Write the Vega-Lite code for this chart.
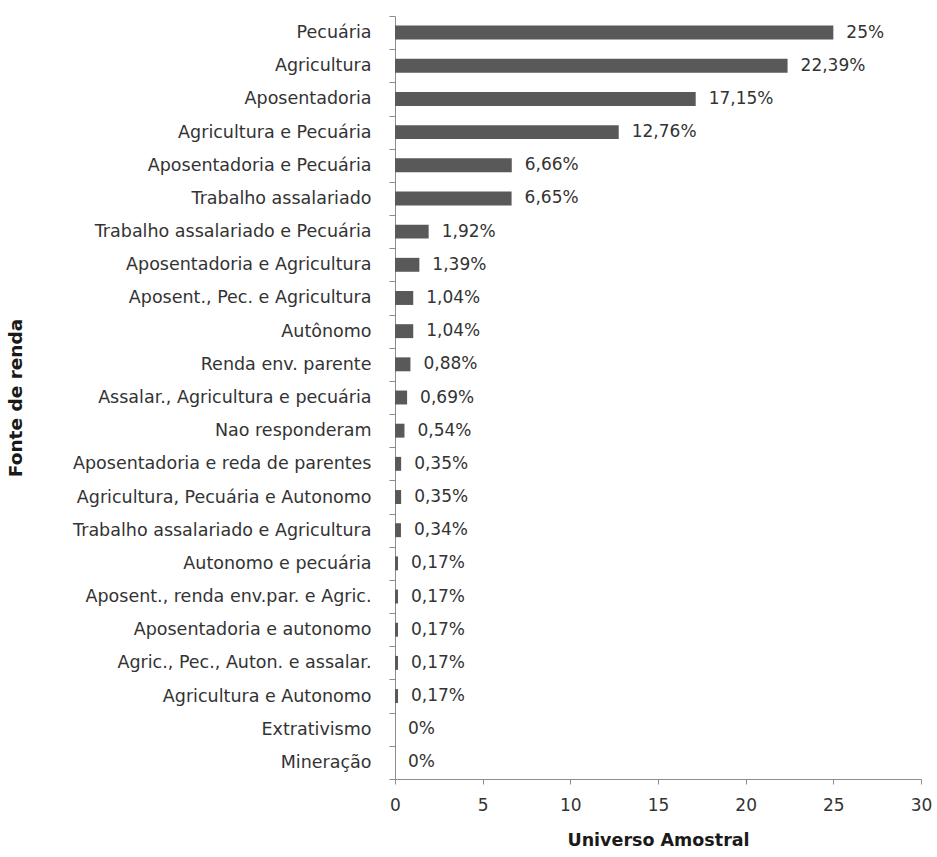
{
  "$schema": "https://vega.github.io/schema/vega-lite/v6.json",
  "autosize": "none",
  "width": 526,
  "height": 763,
  "padding": {"left": 395, "top": 16, "right": 16, "bottom": 78},
  "background": "white",
  "config": {"view": {"stroke": null}, "font": "DejaVu Sans"},
  "data": {"values": [
    {"fonte": "Pecuária", "valor": 25, "rotulo": "25%"},
    {"fonte": "Agricultura", "valor": 22.39, "rotulo": "22,39%"},
    {"fonte": "Aposentadoria", "valor": 17.15, "rotulo": "17,15%"},
    {"fonte": "Agricultura e Pecuária", "valor": 12.76, "rotulo": "12,76%"},
    {"fonte": "Aposentadoria e Pecuária", "valor": 6.66, "rotulo": "6,66%"},
    {"fonte": "Trabalho assalariado", "valor": 6.65, "rotulo": "6,65%"},
    {"fonte": "Trabalho assalariado e Pecuária", "valor": 1.92, "rotulo": "1,92%"},
    {"fonte": "Aposentadoria e Agricultura", "valor": 1.39, "rotulo": "1,39%"},
    {"fonte": "Aposent., Pec. e Agricultura", "valor": 1.04, "rotulo": "1,04%"},
    {"fonte": "Autônomo", "valor": 1.04, "rotulo": "1,04%"},
    {"fonte": "Renda env. parente", "valor": 0.88, "rotulo": "0,88%"},
    {"fonte": "Assalar., Agricultura e pecuária", "valor": 0.69, "rotulo": "0,69%"},
    {"fonte": "Nao responderam", "valor": 0.54, "rotulo": "0,54%"},
    {"fonte": "Aposentadoria e reda de parentes", "valor": 0.35, "rotulo": "0,35%"},
    {"fonte": "Agricultura, Pecuária e Autonomo", "valor": 0.35, "rotulo": "0,35%"},
    {"fonte": "Trabalho assalariado e Agricultura", "valor": 0.34, "rotulo": "0,34%"},
    {"fonte": "Autonomo e pecuária", "valor": 0.17, "rotulo": "0,17%"},
    {"fonte": "Aposent., renda env.par. e Agric.", "valor": 0.17, "rotulo": "0,17%"},
    {"fonte": "Aposentadoria e autonomo", "valor": 0.17, "rotulo": "0,17%"},
    {"fonte": "Agric., Pec., Auton. e assalar.", "valor": 0.17, "rotulo": "0,17%"},
    {"fonte": "Agricultura e Autonomo", "valor": 0.17, "rotulo": "0,17%"},
    {"fonte": "Extrativismo", "valor": 0, "rotulo": "0%"},
    {"fonte": "Mineração", "valor": 0, "rotulo": "0%"}
  ]},
  "encoding": {
    "y": {
      "field": "fonte", "type": "nominal", "sort": null,
      "scale": {"paddingInner": 0, "paddingOuter": 0},
      "axis": {
        "title": "Fonte de renda", "titleFontSize": 18.5, "titleFontWeight": "bold", "titleColor": "#1a1a1a",
        "titleX": -370,
        "labelFontSize": 17.5, "labelColor": "#333333", "labelLimit": 400, "labelPadding": 18,
        "domainColor": "#8c8c8c", "tickColor": "#8c8c8c", "tickSize": 6, "tickWidth": 1, "ticks": true, "tickBand": "extent"
      }
    },
    "x": {
      "field": "valor", "type": "quantitative",
      "scale": {"domain": [0, 30], "nice": false},
      "axis": {
        "title": "Universo Amostral", "titleFontSize": 17.5, "titleFontWeight": "bold", "titleColor": "#1a1a1a",
        "titlePadding": 18,
        "values": [0, 5, 10, 15, 20, 25, 30], "grid": false, "labelFlush": false,
        "labelFontSize": 17, "labelColor": "#333333", "labelPadding": 13,
        "domainColor": "#8c8c8c", "tickColor": "#8c8c8c", "tickSize": 5
      }
    }
  },
  "layer": [
    {"mark": {"type": "bar", "color": "#595959", "height": {"band": 0.42}}},
    {"mark": {"type": "text", "align": "left", "dx": 13, "fontSize": 17, "color": "#333333"},
     "encoding": {"text": {"field": "rotulo"}}}
  ]
}
